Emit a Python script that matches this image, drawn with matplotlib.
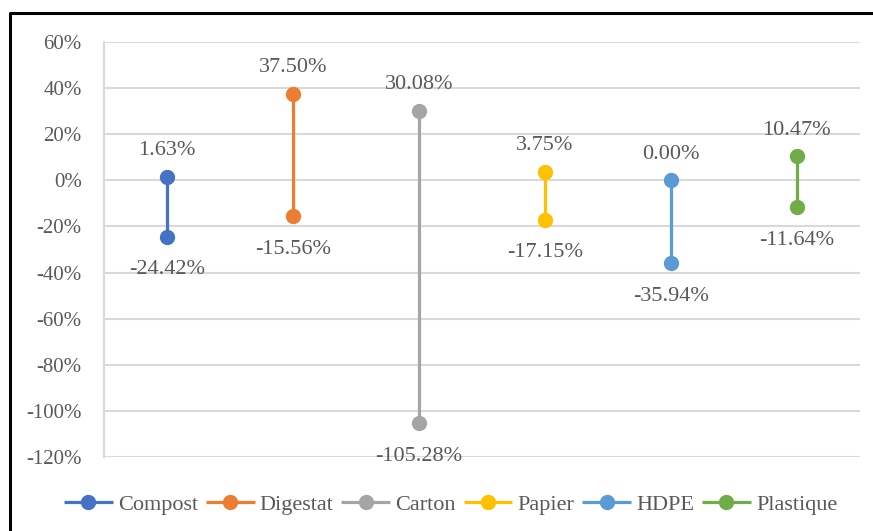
import matplotlib.pyplot as plt
from matplotlib.lines import Line2D

# range per material: lowest and highest change
materials = ['Compost', 'Digestat', 'Carton', 'Papier', 'HDPE', 'Plastique']
low = [-24.42, -15.56, -105.28, -17.15, -35.94, -11.64]
high = [1.63, 37.50, 30.08, 3.75, 0.00, 10.47]
colors = ['#4472C4', '#ED7D31', '#A5A5A5', '#FFC000', '#5B9BD5', '#70AD47']
yticks = [-120, -100, -80, -60, -40, -20, 0, 20, 40, 60]

plt.rcParams['font.family'] = ['Liberation Serif', 'DejaVu Serif']
txt = '#595959'

fig = plt.figure(figsize=(8.73, 5.31), dpi=100)
ax = fig.add_axes([0.1191, 0.1394, 0.8659, 0.7815])

for i, (name, lo, hi, c) in enumerate(zip(materials, low, high, colors)):
    ax.plot([i, i], [lo, hi], color=c, lw=2.3, marker='o', ms=10,
            solid_capstyle='butt', label=name, zorder=3)
    ax.annotate(f'{hi:.2f}%', (i, hi), xytext=(0, 12), textcoords='offset points',
                ha='center', va='bottom', fontsize=16, color=txt)
    ax.annotate(f'{lo:.2f}%', (i, lo), xytext=(0, -17), textcoords='offset points',
                ha='center', va='top', fontsize=16, color=txt)

ax.set_xlim(-0.5, len(materials) - 0.5)
ax.set_ylim(-120, 60)
ax.set_yticks(yticks)
ax.set_yticklabels([f'{v}%' for v in yticks], fontsize=15, color=txt)
ax.set_xticks([])
ax.tick_params(axis='y', length=0, pad=16)
ax.grid(axis='y', color='#D9D9D9', lw=1.5, zorder=0)
for s in ['top', 'right', 'bottom']:
    ax.spines[s].set_visible(False)
ax.spines['left'].set_color('#D9D9D9')
ax.spines['left'].set_linewidth(1.5)

leg = fig.legend(loc='center', bbox_to_anchor=(0.516, 0.049), ncol=6, frameon=False,
                 fontsize=16, handlelength=2.2, handletextpad=0.23, columnspacing=0.35)
for t in leg.get_texts():
    t.set_color(txt)

# outer frame, cut off at the right and bottom
fig.add_artist(Line2D([0.012, 0.012, 1.0], [0.0, 0.9755, 0.9755],
                      transform=fig.transFigure, color='black', lw=2.2))

fig.savefig('out.png', dpi=100)
